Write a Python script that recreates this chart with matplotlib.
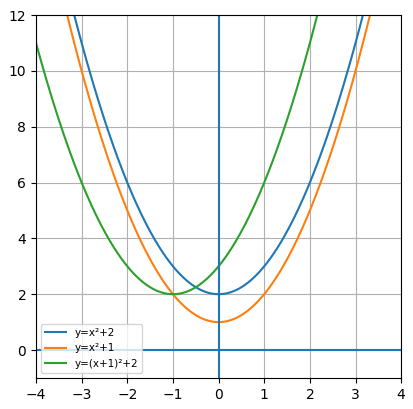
import numpy as np
import matplotlib
matplotlib.use("Agg")
import matplotlib.pyplot as plt

labels = ["y=x²+2", "y=x²+1", "y=(x+1)²+2"]
# polynomial coefficients (a, b, c) of each curve, as named in the legend
coef_a = [1, 1, 1]
coef_b = [0, 0, 2]
coef_c = [2, 1, 3]
x_range = [-4, 4]
y_range = [-1, 12]

x = np.linspace(x_range[0], x_range[1], 400)

fig = plt.figure(figsize=(4.14, 4.09), dpi=100)
ax = fig.add_axes([0.087, 0.076, 0.882, 0.887])
for a, b, c, lab in zip(coef_a, coef_b, coef_c, labels):
    ax.plot(x, np.polyval([a, b, c], x), label=lab)
ax.axhline(0, color="C0")
ax.axvline(0, color="C0")
ax.set_xlim(*x_range)
ax.set_ylim(*y_range)
ax.set_xticks(range(-4, 5))
ax.set_yticks(range(0, 13, 2))
ax.grid(True)
ax.legend(loc="lower left", fontsize=7.5)
fig.savefig("out.png", dpi=100)
